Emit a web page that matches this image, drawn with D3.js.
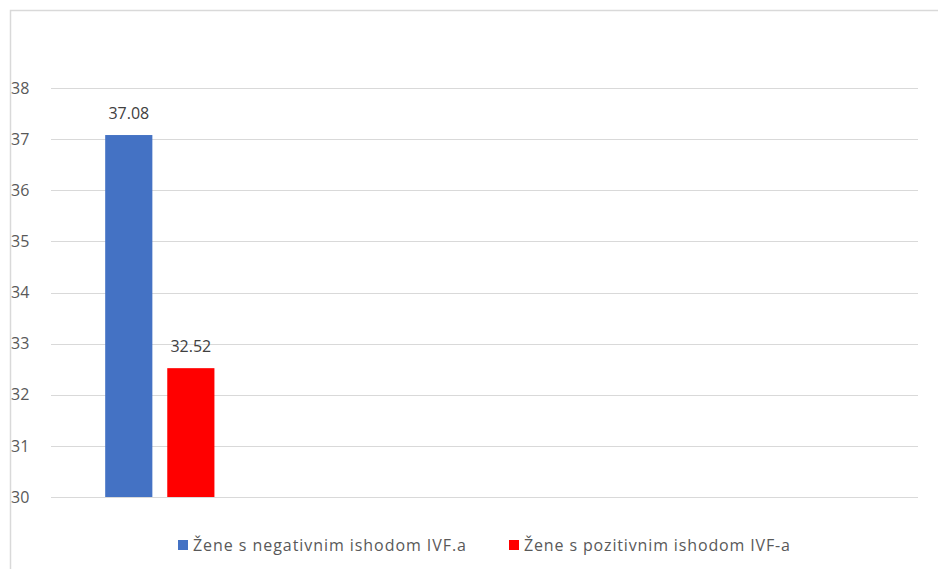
<!DOCTYPE html>
<html>
<head>
<meta charset="utf-8">
<script src="https://cdn.jsdelivr.net/npm/d3@7"></script>
<style>
  body { margin: 0; background: #fff; }
  svg { display: block; font-family: "Open Sans", "DejaVu Sans", sans-serif; }
</style>
</head>
<body>
<svg id="chart" width="938" height="569"></svg>
<script>
// ---------- Data ----------
const categories = ["c1", "c2", "c3", "c4"];          // only the first slot carries data
const seriesNames = ["Žene s negativnim ishodom IVF.a", "Žene s pozitivnim ishodom IVF-a"];
const seriesValues = [37.08, 32.52];
const seriesColors = ["#4472C4", "#FF0000"];
const yTicks = [30, 31, 32, 33, 34, 35, 36, 37, 38];

// ---------- Layout ----------
const svg = d3.select("#chart");
const W = 938, H = 569;
const M = { t: 88, r: 20, b: 72, l: 51 };
const iw = W - M.l - M.r, ih = H - M.t - M.b;

// chart frame (cropped on right/bottom)
svg.append("path")
  .attr("d", `M10.5,${H} V10.5 H${W}`)
  .attr("fill", "none").attr("stroke", "#d9d9d9").attr("stroke-width", 1.5);

const g = svg.append("g").attr("transform", `translate(${M.l},${M.t})`);

const x0 = d3.scaleBand().domain(categories).range([0, iw]);
const x1 = d3.scaleBand().domain(seriesNames).range([x0.bandwidth() * 0.25, x0.bandwidth() * 0.754]).paddingInner(0.24);
const y = d3.scaleLinear().domain([30, 38]).range([ih, 0]);

// gridlines
g.append("g").selectAll("line").data(yTicks).enter().append("line")
  .attr("x1", 0).attr("x2", iw)
  .attr("y1", d => Math.round(y(d)) + 0.5).attr("y2", d => Math.round(y(d)) + 0.5)
  .attr("stroke", "#d9d9d9").attr("stroke-width", 1);

// y axis labels
const yAxis = g.append("g").attr("transform", "translate(-19,0)")
  .call(d3.axisLeft(y).tickValues(yTicks).tickSize(0).tickPadding(0));
yAxis.select(".domain").remove();
yAxis.selectAll("text").attr("fill", "#595959").attr("font-size", 16)
  .attr("font-family", "Open Sans")
  .attr("text-anchor", "start").attr("x", -21);

// bars
const cat = g.append("g").attr("transform", `translate(${x0(categories[0])},0)`);
cat.selectAll("rect").data(seriesNames).enter().append("rect")
  .attr("x", d => x1(d))
  .attr("width", x1.bandwidth())
  .attr("y", (d, i) => y(seriesValues[i]))
  .attr("height", (d, i) => ih - y(seriesValues[i]))
  .attr("fill", (d, i) => seriesColors[i]);

// data labels
cat.selectAll("text.lbl").data(seriesNames).enter().append("text")
  .attr("class", "lbl")
  .attr("x", d => x1(d) + x1.bandwidth() / 2)
  .attr("y", (d, i) => y(seriesValues[i]) - 16)
  .attr("text-anchor", "middle")
  .attr("fill", "#404040").attr("font-size", 16)
  .text((d, i) => d3.format(".2f")(seriesValues[i]));

// legend
const legendX = [178, 509];
const legendW = [273, 266];
const lg = svg.append("g").attr("transform", "translate(0,545)");
seriesNames.forEach((name, i) => {
  lg.append("rect").attr("x", legendX[i]).attr("y", -5).attr("width", 10).attr("height", 10)
    .attr("fill", seriesColors[i]);
  lg.append("text").attr("x", legendX[i] + 15).attr("y", 0).attr("dy", "0.35em")
    .attr("fill", "#595959").attr("font-size", 16)
    .attr("textLength", legendW[i]).attr("lengthAdjust", "spacing")
    .text(name);
});
</script>
</body>
</html>
